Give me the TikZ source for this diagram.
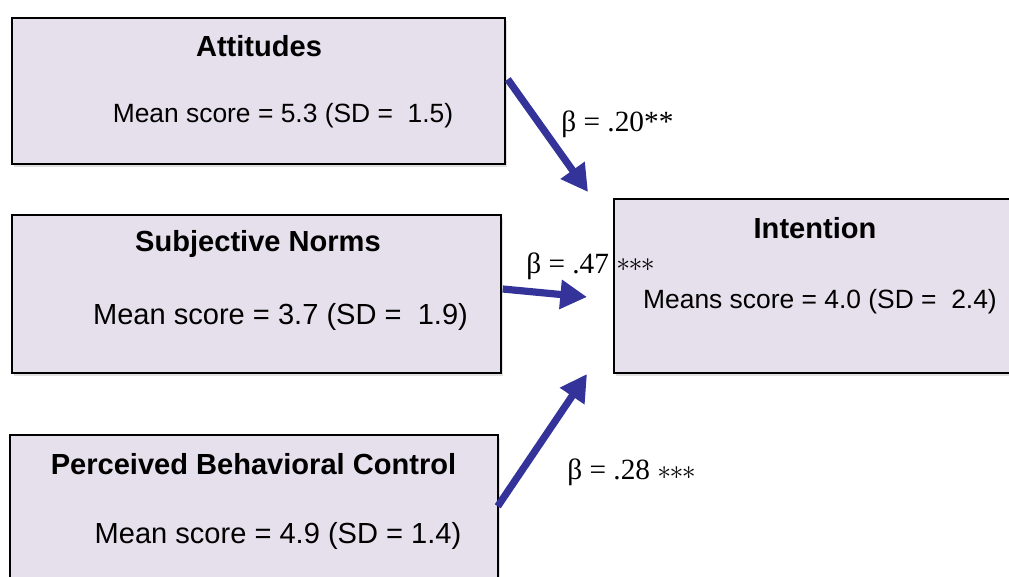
\documentclass[tikz,border=0pt]{standalone}
\usepackage{fontspec}
\setsansfont{Liberation Sans}
\newfontfamily\betafont{Liberation Serif}
\usetikzlibrary{arrows.meta,fit,shadows,calc}
\definecolor{boxfill}{RGB}{229,224,236}
\definecolor{arrowblue}{RGB}{51,51,153}
\newcommand{\threestars}{$\mathord{\ast}\mkern-1mu\mathord{\ast}\mkern-1mu\mathord{\ast}$}
\begin{document}
\begin{tikzpicture}[x=0.75pt,y=-0.75pt,
 box/.style={draw=black, line width=1.1pt, fill=boxfill, inner sep=0pt,
   drop shadow={shadow xshift=1.5pt, shadow yshift=-2.5pt, fill=black!40, opacity=0.3}},
 title/.style={font=\sffamily\bfseries\fontsize{21.8}{26}\selectfont, inner sep=0pt},
 val/.style={font=\sffamily\fontsize{19.8}{24}\selectfont, inner sep=0pt},
 valbig/.style={font=\sffamily\fontsize{21.8}{26}\selectfont, inner sep=0pt},
 beta/.style={font=\betafont\fontsize{22}{26}\selectfont, inner sep=0pt, anchor=west},
 link/.style={draw=arrowblue, line width=5.4pt, -{Triangle[length=20pt,width=21pt]}}]
\useasboundingbox (0,0) rectangle (1009,577);
\clip (0,0) rectangle (1009,577);
% boxes
\node[box, fit={(12,18) (505,164)}] (att) {};
\node[box, fit={(12,215) (501,373)}] (sn) {};
\node[box, fit={(10,435) (498,600)}] (pbc) {};
\node[box, fit={(614,199) (1030,373)}] (int) {};
% texts
\node[title] (attT) at (259,46) {Attitudes};
\node[val] (attM) at (283,116) {Mean score = 5.3 (SD = \ 1.5)};
\node[title] (snT) at (258,244) {Subjective Norms};
\node[valbig] (snM) at (280.5,317) {Mean score = 3.7 (SD = \ 1.9)};
\node[title] (intT) at (815,228) {Intention};
\node[val] (intM) at (820,302) {Means score = 4.0 (SD = \ 2.4)};
\node[title] (pbcT) at (253.5,464) {Perceived Behavioral Control};
\node[valbig] (pbcM) at (278,536) {Mean score = 4.9 (SD = 1.4)};
% arrows
\coordinate (t1) at (588,192);
\coordinate (t2) at (587,297);
\coordinate (t3) at (587,374);
\draw[link] ($(att.north east)+(2,62)$) -- (t1);
\draw[link] ($(sn.east)+(1,-5)$) -- (t2);
\draw[link] ($(pbc.north east)+(-1,72)$) -- (t3);
% labels
\node[beta] (b1) at (561,124) {β = .20**};
\node[beta] (b2) at (526,266) {β = .47};
\node[beta] (b2s) at (616,265) {\threestars};
\node[beta] (b3) at (567,472) {β = .28 \threestars};
\end{tikzpicture}
\end{document}
